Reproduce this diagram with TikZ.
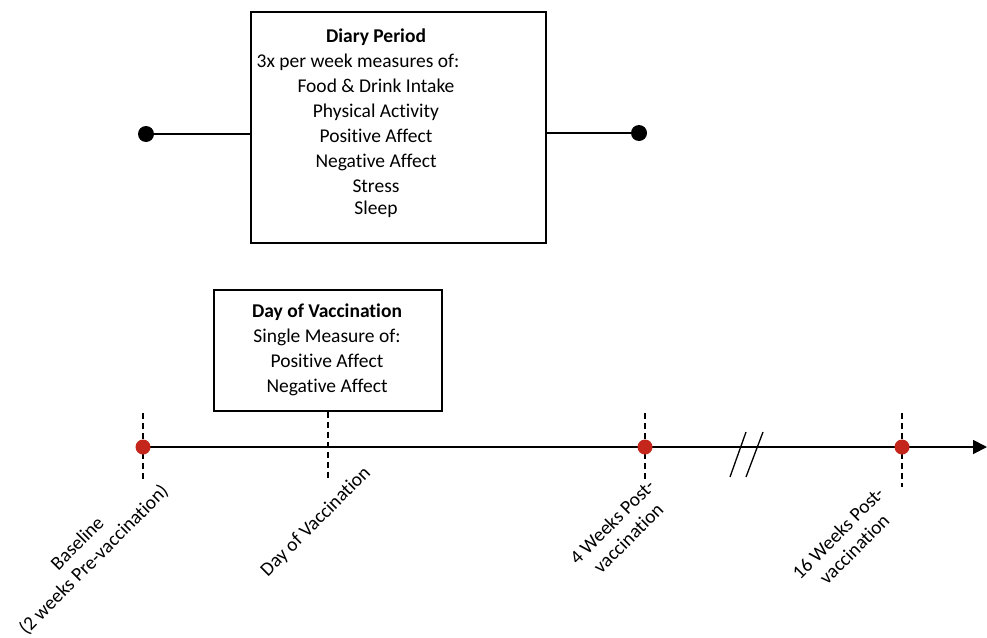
\documentclass[tikz,border=0pt]{standalone}
\usepackage{fontspec}
\setmainfont{Carlito}[Ligatures=NoCommon]
\usetikzlibrary{arrows.meta}
\definecolor{dotred}{RGB}{196,38,28}
\begin{document}
\begin{tikzpicture}[x=1pt,y=-1pt,
  font=\fontsize{19.5}{25}\selectfont,
  vline/.style={dash pattern=on 6pt off 4pt, line width=1.3pt},
  rdot/.style={circle, fill=dotred, inner sep=0pt, minimum size=15pt},
  bdot/.style={circle, fill=black, inner sep=0pt, minimum size=16pt},
  lab/.style={rotate=45, align=center, font=\fontsize{19.5}{23}\selectfont, inner sep=0pt},
  boxtext/.style={align=center, inner sep=0pt}
]
\useasboundingbox (0,0) rectangle (987,637);

% Diary period box
\node[draw, line width=2.5pt, minimum width=295pt, minimum height=231pt, inner sep=0pt] (diary) at (398.5,127.5) {};
\node[boxtext] (diarytext) at (376,123) {\textbf{Diary Period}\\
\mbox{3x per week measures of:\hspace{36pt}}\\
Food \& Drink Intake\\
Physical Activity\\
Positive Affect\\
Negative Affect\\
Stress\\[-3pt]
Sleep};
\node[bdot] (dl) at (146,134) {};
\node[bdot] (dr) at (639,133) {};
\draw[line width=1.5pt] (dl.center) -- (dl -| diary.west);
\draw[line width=1.5pt] (dr.center) -- (dr -| diary.east);

% Day of vaccination box
\node[draw, line width=1.2pt, minimum width=228pt, minimum height=121pt, inner sep=0pt] (vacc) at (328,350.5) {};
\node[boxtext] (vacctext) at (327,349.5) {\textbf{Day of Vaccination}\\
Single Measure of:\\
Positive Affect\\
Negative Affect};

% timeline
\coordinate (tstart) at (143,447);
\coordinate (tend) at (987,447);
\draw[line width=1.8pt, -{Triangle[length=14pt,width=14pt]}] (tstart) -- (tend);

% dashed markers
\coordinate (b0t) at (143,413);
\coordinate (b0b) at (143,480);
\coordinate (dvb) at (328,480);
\coordinate (w4t) at (645,413);
\coordinate (w4b) at (645,480);
\coordinate (w16t) at (902,413);
\coordinate (w16b) at (902,487);
\draw[vline] (b0t) -- (b0b);
\draw[vline] (vacc.south) -- (dvb);
\draw[vline] (w4t) -- (w4b);
\draw[vline] (w16t) -- (w16b);

% dots
\node[rdot] (b0) at (143,447) {};
\node[rdot] (w4) at (645,447) {};
\node[rdot] (w16) at (902,447) {};

% break marks
\coordinate (k1a) at (730,477);
\coordinate (k1b) at (746,432);
\coordinate (k2a) at (746,477);
\coordinate (k2b) at (763,432);
\draw[line width=1.3pt] (k1a) -- (k1b);
\draw[line width=1.3pt] (k2a) -- (k2b);

% labels
\node[lab] (lb0) at (86,552) {Baseline\\(2 weeks Pre-vaccination)};
\node[lab] (ldv) at (316,522) {Day of Vaccination};
\node[lab] (lw4) at (620,530) {4 Weeks Post-\\vaccination};
\node[lab] (lw16) at (846,541) {16 Weeks Post-\\vaccination};
\end{tikzpicture}
\end{document}
